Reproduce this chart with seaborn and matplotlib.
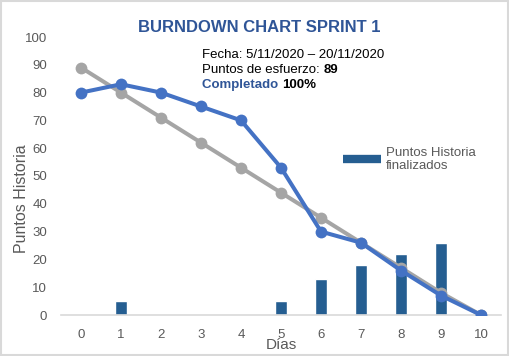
import numpy as np
import pandas as pd
import seaborn as sns
from matplotlib import pyplot as plt
from matplotlib.lines import Line2D
from matplotlib.patches import Rectangle

# data
days = [0, 1, 2, 3, 4, 5, 6, 7, 8, 9, 10]
ideal = [89, 80, 71, 62, 53, 44, 35, 26, 17, 8, 0]
real = [80, 83, 80, 75, 70, 53, 30, 26, 16, 7, 0]
bar_days = [1, 5, 6, 7, 8, 9]
bar_vals = [5, 5, 13, 18, 22, 26]

sns.set_theme(style='white')
plt.rcParams['font.family'] = ['Liberation Sans', 'DejaVu Sans']

W, H = 509, 356
fig = plt.figure(figsize=(W / 100, H / 100), dpi=100)
ax = fig.add_axes([61 / W, 1 - 315 / H, 440 / W, 278 / H])

bars = pd.DataFrame({'dia': bar_days, 'puntos': bar_vals})
sns.barplot(data=bars, x='dia', y='puntos', native_scale=True, width=0.3,
            color='#255E91', saturation=1, ax=ax, zorder=1)

lines = pd.DataFrame({'dia': days, 'ideal': ideal, 'real': real})
sns.lineplot(data=lines, x='dia', y='ideal', color='#A5A5A5', linewidth=2.9,
             marker='o', markersize=8.5, markeredgewidth=0, ax=ax, zorder=2)
sns.lineplot(data=lines, x='dia', y='real', color='#4472C4', linewidth=2.9,
             marker='o', markersize=8.5, markeredgewidth=0, ax=ax, zorder=3)

ax.set_xlim(-0.5, 10.5)
ax.set_ylim(0, 100)
ax.set_xticks(days)
ax.set_yticks(range(0, 101, 10))
ax.set_xlabel('')
ax.set_ylabel('')
ax.tick_params(axis='both', length=0, labelsize=9.5, labelcolor='#595959')
ax.tick_params(axis='y', pad=10)
ax.tick_params(axis='x', pad=10)
for s in ['left', 'right', 'top']:
    ax.spines[s].set_visible(False)
ax.spines['bottom'].set_color('#D9D9D9')
ax.spines['bottom'].set_linewidth(1.2)
ax.grid(False)

handle = Line2D([0], [0], color='#255E91', linewidth=6, solid_capstyle='butt')
ax.legend([handle], ['Puntos Historia\nfinalizados'], loc='upper left',
          bbox_to_anchor=(336 / W, 1 - 140 / H), bbox_transform=fig.transFigure,
          frameon=False, fontsize=9.5, handlelength=2.9, labelcolor='#595959',
          borderpad=0, handletextpad=0.4, labelspacing=0.2)

fig.text(259 / W, 1 - 27 / H, 'BURNDOWN CHART SPRINT 1', ha='center', va='center',
         fontsize=12, fontweight='bold', color='#2F5597')

fig.text(22 / W, 1 - 199 / H, 'Puntos Historia', rotation=90, ha='center', va='center',
         fontsize=11.5, color='#595959')
fig.text(281 / W, 1 - 345 / H, 'Días', ha='center', va='center',
         fontsize=11, color='#595959')

# info block
x0 = 202 / W
fig.text(x0, 1 - 58 / H, 'Fecha: 5/11/2020 – 20/11/2020', fontsize=9.5, color='black', va='baseline')
t1 = fig.text(x0, 1 - 73 / H, 'Puntos de esfuerzo: ', fontsize=9.5, color='black', va='baseline')
t2 = fig.text(x0, 1 - 88 / H, 'Completado ', fontsize=9.5, color='#2F5597',
              fontweight='bold', va='baseline')
fig.canvas.draw()
r = fig.canvas.get_renderer()
e1 = t1.get_window_extent(r)
e2 = t2.get_window_extent(r)
fig.text(e1.x1 / W, 1 - 73 / H, '89', fontsize=9.5, fontweight='bold', color='black', va='baseline')
fig.text(e2.x1 / W, 1 - 88 / H, '100%', fontsize=9.5, fontweight='bold', color='black', va='baseline')

fig.patches.append(Rectangle((0.002, 0.003), 0.996, 0.994, transform=fig.transFigure,
                             fill=False, edgecolor='#D9D9D9', linewidth=1.5))

fig.savefig('out.png', dpi=100)
